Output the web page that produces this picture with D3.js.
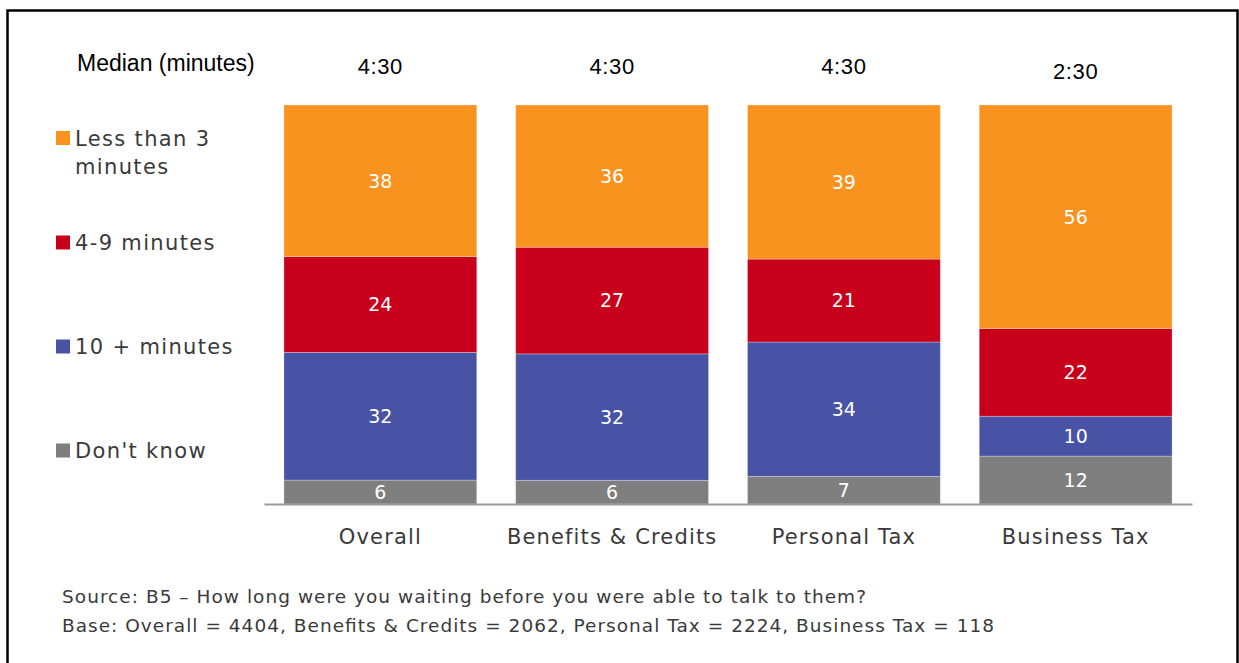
<!DOCTYPE html>
<html>
<head>
<meta charset="utf-8">
<script src="https://cdn.jsdelivr.net/npm/d3@7"></script>
<style>
  html, body { margin: 0; padding: 0; background: #fff; }
  svg { display: block; }
</style>
</head>
<body>
<svg id="chart" width="1239" height="663"></svg>
<script>
// Waiting time before speaking to an adviser, by line of business (%)
const categories = ["Overall", "Benefits & Credits", "Personal Tax", "Business Tax"];
const medians = ["4:30", "4:30", "4:30", "2:30"];
const seriesNames = ["Less than 3 minutes", "4-9 minutes", "10 + minutes", "Don't know"];
const lessThan3 = [38, 36, 39, 56];
const fourToNine = [24, 27, 21, 22];
const tenPlus = [32, 32, 34, 10];
const dontKnow = [6, 6, 7, 12];
const sourceNote = "Source: B5 \u2013 How long were you waiting before you were able to talk to them?";
const baseNote = "Base: Overall = 4404, Benefits & Credits = 2062, Personal Tax = 2224, Business Tax = 118";

const colors = ["#F7931E", "#C8001C", "#4853A5", "#7F7F7F"];
const bodyFont = "'DejaVu Sans', Verdana, sans-serif";
const headFont = "'Liberation Sans', Arial, sans-serif";
const textColor = "#3a3a3a";

const svg = d3.select("#chart");

// outer frame (open at the bottom edge of the page)
svg.append("rect")
  .attr("x", 7.5).attr("y", 10.5)
  .attr("width", 1230).attr("height", 700)
  .attr("fill", "none").attr("stroke", "#000").attr("stroke-width", 2.5);

// stack from the bottom up: Don't know, 10+, 4-9, <3
const values = [lessThan3, fourToNine, tenPlus, dontKnow];
const rows = categories.map((c, i) => {
  const r = { category: c };
  seriesNames.forEach((s, k) => { r[s] = values[k][i]; });
  r.total = d3.sum(values, v => v[i]);
  return r;
});
const stackOrder = seriesNames.slice().reverse();
const normalized = rows.map(r => {
  const o = { category: r.category };
  stackOrder.forEach(s => { o[s] = r[s] / r.total * 100; });
  return o;
});
const stacked = d3.stack().keys(stackOrder)(normalized);

const x = d3.scaleBand()
  .domain(categories)
  .range([264, 1192])
  .paddingInner(0.168)
  .paddingOuter(0.086);

const y = d3.scaleLinear().domain([0, 100]).range([504, 105]);

const color = d3.scaleOrdinal().domain(seriesNames).range(colors);

const layers = svg.append("g").selectAll("g")
  .data(stacked)
  .join("g")
  .attr("fill", d => color(d.key));

layers.selectAll("rect")
  .data(d => d.map(p => Object.assign(p, { key: d.key })))
  .join("rect")
  .attr("x", p => x(p.data.category))
  .attr("width", x.bandwidth())
  .attr("y", p => y(p[1]))
  .attr("height", p => y(p[0]) - y(p[1]))
  .attr("stroke", "rgba(255,255,255,0.35)")
  .attr("stroke-width", 0.8);

// segment value labels (raw percentages)
layers.selectAll("text")
  .data(d => d)
  .join("text")
  .attr("x", p => x(p.data.category) + x.bandwidth() / 2)
  .attr("y", p => (y(p[0]) + y(p[1])) / 2)
  .attr("dy", "0.36em")
  .attr("text-anchor", "middle")
  .attr("fill", "#fff")
  .style("font-family", bodyFont)
  .style("font-size", "19px")
  .text(p => rows[categories.indexOf(p.data.category)][p.key]);

// baseline / category axis
const xAxis = d3.axisBottom(x).tickSize(0).tickPadding(0);
const axisG = svg.append("g")
  .attr("transform", `translate(0,${y(0)})`)
  .call(xAxis);
axisG.select(".domain").attr("stroke", "#999").attr("stroke-width", 2);
axisG.selectAll(".tick text")
  .attr("y", 40)
  .attr("dy", 0)
  .attr("fill", textColor)
  .style("font-family", bodyFont)
  .style("font-size", "21px")
  .style("letter-spacing", "1.15px");

// median row
svg.append("text")
  .attr("x", 77).attr("y", 71)
  .attr("fill", "#000")
  .style("font-family", headFont)
  .style("font-size", "23px")
  .text("Median (minutes)");

const medianDy = [0, 0, 0, 5];
svg.append("g").selectAll("text")
  .data(medians)
  .join("text")
  .attr("x", (d, i) => x(categories[i]) + x.bandwidth() / 2)
  .attr("y", (d, i) => 74 + medianDy[i])
  .attr("text-anchor", "middle")
  .attr("fill", "#000")
  .style("font-family", headFont)
  .style("font-size", "22px")
  .style("letter-spacing", "0.6px")
  .text(d => d);

// legend
const legendLines = [["Less than 3", "minutes"], ["4-9 minutes"], ["10 + minutes"], ["Don't know"]];
const legendBase = [145.5, 250, 354, 458];
const legend = svg.append("g").selectAll("g")
  .data(seriesNames)
  .join("g")
  .attr("transform", (d, i) => `translate(0,${legendBase[i]})`);
legend.append("rect")
  .attr("x", 56).attr("y", -14.5)
  .attr("width", 14).attr("height", 14)
  .attr("fill", d => color(d));
legend.append("text")
  .attr("x", 75)
  .attr("fill", textColor)
  .style("font-family", bodyFont)
  .style("font-size", "21px")
  .style("letter-spacing", "1.35px")
  .selectAll("tspan")
  .data((d, i) => legendLines[i])
  .join("tspan")
  .attr("x", 75)
  .attr("dy", (t, j) => j === 0 ? 0 : 28.5)
  .text(t => t);

// footnotes, spaced out to their set line lengths
const noteWidths = [804, 932];
svg.append("g").selectAll("text")
  .data([sourceNote, baseNote])
  .join("text")
  .attr("x", 62)
  .attr("y", (d, i) => 603 + i * 29)
  .attr("fill", textColor)
  .attr("textLength", (d, i) => noteWidths[i])
  .attr("lengthAdjust", "spacing")
  .style("font-family", bodyFont)
  .style("font-size", "18.5px")
  .text(d => d);
</script>
</body>
</html>
